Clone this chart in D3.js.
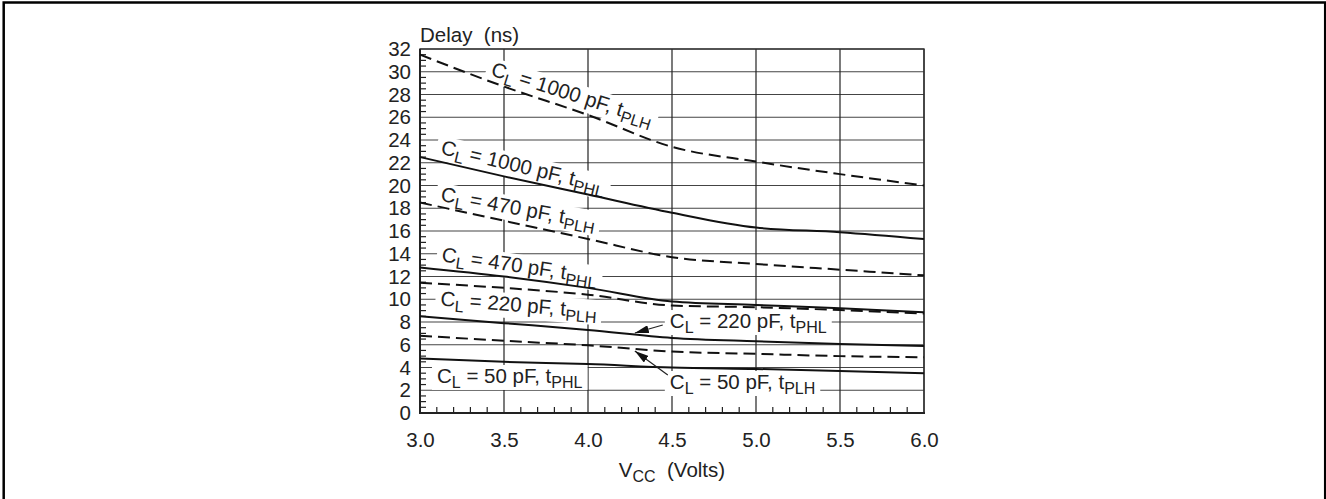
<!DOCTYPE html>
<html><head><meta charset="utf-8">
<script src="https://cdn.jsdelivr.net/npm/d3@7"></script>
<style>
body{margin:0;background:#fff;}
svg{display:block;font-family:"Liberation Sans",Arial,Helvetica,sans-serif;}
</style></head>
<body><svg id="c" width="1326" height="499"></svg>
<script>
const vcc = [3.0, 3.5, 4.0, 4.5, 5.0, 5.5, 6.0];
const xTickLabels = ["3.0","3.5","4.0","4.5","5.0","5.5","6.0"];
const yTickLabels = [0,2,4,6,8,10,12,14,16,18,20,22,24,26,28,30,32];
const cl1000PLH = [31.5, 28.7, 26.2, 23.4, 22.1, 21.0, 20.0];
const cl1000PHL = [22.5, 20.8, 19.2, 17.6, 16.3, 15.9, 15.3];
const cl470PLH  = [18.5, 16.9, 15.3, 13.7, 13.1, 12.6, 12.1];
const cl470PHL  = [12.8, 12.0, 11.0, 9.8, 9.5, 9.2, 8.85];
const cl220PLH  = [11.45, 11.0, 10.4, 9.45, 9.3, 9.05, 8.75];
const cl220PHL  = [8.5, 7.9, 7.3, 6.6, 6.3, 6.07, 5.9];
const cl50PLH   = [6.8, 6.35, 5.95, 5.4, 5.2, 5.0, 4.9];
const cl50PHL   = [4.8, 4.5, 4.3, 4.0, 3.87, 3.7, 3.5];

const series = [
  {vals: cl1000PLH, dashed: true,  cap: "1000", t: "PLH"},
  {vals: cl1000PHL, dashed: false, cap: "1000", t: "PHL"},
  {vals: cl470PLH,  dashed: true,  cap: "470",  t: "PLH"},
  {vals: cl470PHL,  dashed: false, cap: "470",  t: "PHL"},
  {vals: cl220PLH,  dashed: true,  cap: "220",  t: "PLH"},
  {vals: cl220PHL,  dashed: false, cap: "220",  t: "PHL"},
  {vals: cl50PLH,   dashed: true,  cap: "50",   t: "PLH"},
  {vals: cl50PHL,   dashed: false, cap: "50",   t: "PHL"}
];

// label anchors (data coords) and rotation
const labels = [
  {s:0, v:3.416, d:29.7, a:17.5},
  {s:1, v:3.119, d:22.8, a:13.5},
  {s:2, v:3.119, d:18.65, a:10.4},
  {s:3, v:3.125, d:13.35, a:8.3},
  {s:4, v:3.119, d:9.45,  a:4.6},
  {s:5, v:4.487, d:7.47,  a:0, arrow:[4.445,7.74,4.279,7.03]},
  {s:6, v:4.487, d:2.11,  a:0, arrow:[4.475,3.34,4.279,5.45]},
  {s:7, v:3.101, d:2.64,  a:0}
];

const svg = d3.select("#c");
const x = d3.scaleLinear().domain([3,6]).range([420,924]);
const y = d3.scaleLinear().domain([0,32]).range([413,49]);

// outer frame
svg.append("rect").attr("x",3.7).attr("y",2.5).attr("width",1321.5).attr("height",520)
  .attr("fill","none").attr("stroke","#000").attr("stroke-width",2.5);

// gridlines
const g = svg.append("g");
g.selectAll("line.h").data(yTickLabels.filter(d=>d>0)).join("line")
  .attr("x1",x(3)).attr("x2",x(6)).attr("y1",d=>y(d)).attr("y2",d=>y(d))
  .attr("stroke","#444").attr("stroke-width",1.2);
g.selectAll("line.v").data(vcc.filter(d=>d>3)).join("line")
  .attr("y1",y(0)).attr("y2",y(32)).attr("x1",d=>x(d)).attr("x2",d=>x(d))
  .attr("stroke","#222").attr("stroke-width",1.2);

// minor ticks
const yMinor = d3.range(0.5,32,0.5).filter(d=>Math.abs(d%2)>1e-6);
g.selectAll("line.ym").data(yMinor).join("line")
  .attr("x1",x(3)).attr("x2",x(3)+6).attr("y1",d=>y(d)).attr("y2",d=>y(d))
  .attr("stroke","#222").attr("stroke-width",1.2);
const xMinor = d3.range(3.1,6,0.1).filter(d=>Math.abs((d*10)%5)>1e-3 && Math.abs((d*10)%5-5)>1e-3);
g.selectAll("line.xm").data(xMinor).join("line")
  .attr("x1",d=>x(d)).attr("x2",d=>x(d)).attr("y1",y(0)).attr("y2",y(0)-6)
  .attr("stroke","#222").attr("stroke-width",1.2);

// axes (left & bottom) via d3 axis, labels only
const yAxis = svg.append("g").attr("transform",`translate(${x(3)},0)`)
  .call(d3.axisLeft(y).tickValues(yTickLabels).tickSize(0).tickPadding(9).tickFormat(d=>d));
const xAxis = svg.append("g").attr("transform",`translate(0,${y(0)})`)
  .call(d3.axisBottom(x).tickValues(vcc).tickSize(0).tickPadding(19).tickFormat((d,i)=>xTickLabels[i]));
[yAxis,xAxis].forEach(a=>{a.select(".domain").remove();
  a.selectAll("text").attr("font-size",20.5).attr("fill","#222").attr("font-family","Liberation Sans, Arial, sans-serif");});

// labels with white backgrounds
const lab = svg.append("g");
labels.forEach(L=>{
  const s = series[L.s];
  const lg = lab.append("g").attr("transform",`translate(${x(L.v)},${y(L.d)}) rotate(${L.a})`);
  const bg = lg.append("rect").attr("fill","#fff");
  const t = lg.append("text").attr("font-size",20.5).attr("fill","#222");
  t.append("tspan").text("C");
  t.append("tspan").attr("font-size",16).attr("dy",5).text("L");
  t.append("tspan").attr("dy",-5).text(` = ${s.cap} pF, t`);
  t.append("tspan").attr("font-size",16).attr("dy",5).text(s.t);
  const b = t.node().getBBox();
  bg.attr("x",b.x-5).attr("y",b.y+1).attr("width",b.width+10).attr("height",b.height-2);
});

// frame lines (plot)
svg.append("rect").attr("x",x(3)).attr("y",y(32)).attr("width",x(6)-x(3)).attr("height",y(0)-y(32))
  .attr("fill","none").attr("stroke","#333").attr("stroke-width",1.4);
svg.append("line").attr("x1",x(3)).attr("x2",x(3)).attr("y1",y(0)+1).attr("y2",y(32))
  .attr("stroke","#222").attr("stroke-width",2);
svg.append("line").attr("x1",x(3)-1).attr("x2",x(6)+1).attr("y1",y(0)).attr("y2",y(0))
  .attr("stroke","#222").attr("stroke-width",2.2);

// curves
const line = d3.line().x((d,i)=>x(vcc[i])).y(d=>y(d)).curve(d3.curveMonotoneX);
svg.append("g").selectAll("path").data(series).join("path")
  .attr("d",d=>line(d.vals)).attr("fill","none").attr("stroke","#111")
  .attr("stroke-width",2).attr("stroke-dasharray",d=>d.dashed?"12,6":null);

// arrows
const defs = svg.append("defs");
defs.append("marker").attr("id","ah").attr("viewBox","0 0 14 8").attr("refX",14).attr("refY",4)
  .attr("markerWidth",14).attr("markerHeight",8).attr("markerUnits","userSpaceOnUse").attr("orient","auto")
  .append("path").attr("d","M0,0 L14,4 L0,8 Z").attr("fill","#111");
labels.filter(L=>L.arrow).forEach(L=>{
  const a = L.arrow;
  svg.append("line").attr("x1",x(a[0])).attr("y1",y(a[1])).attr("x2",x(a[2])).attr("y2",y(a[3]))
    .attr("stroke","#222").attr("stroke-width",1.2).attr("marker-end","url(#ah)");
});

// axis titles
svg.append("text").attr("x",x(3)).attr("y",42).attr("font-size",20.5).attr("fill","#222")
  .text("Delay\u00a0 (ns)");
const xt = svg.append("text").attr("x",(x(3)+x(6))/2).attr("y",477).attr("text-anchor","middle")
  .attr("font-size",20.5).attr("fill","#222");
xt.append("tspan").text("V");
xt.append("tspan").attr("font-size",16).attr("dy",5).text("CC");
xt.append("tspan").attr("dy",-5).text("\u00a0 (Volts)");
</script></body></html>
